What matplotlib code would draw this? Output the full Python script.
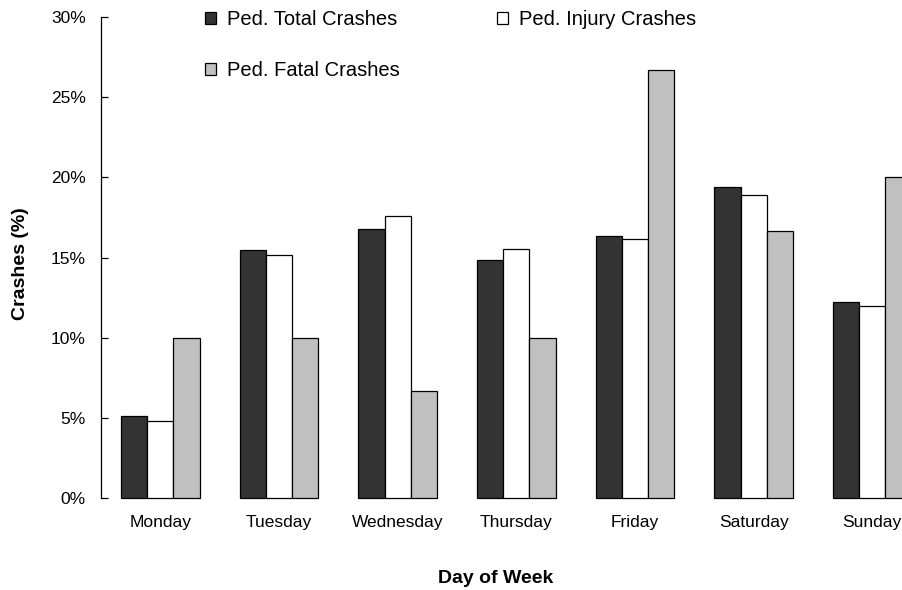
import matplotlib
matplotlib.use("Agg")
import matplotlib.pyplot as plt
from matplotlib.patches import Patch
from matplotlib.ticker import FuncFormatter
import numpy as np

plt.rcParams['font.family'] = ['Liberation Sans', 'DejaVu Sans']

days = ["Monday", "Tuesday", "Wednesday", "Thursday", "Friday", "Saturday", "Sunday"]
total_crashes = [5.13, 15.46, 16.79, 14.88, 16.33, 19.41, 12.24]
injury_crashes = [4.82, 15.19, 17.62, 15.52, 16.15, 18.91, 12.01]
fatal_crashes = [10.0, 10.0, 6.67, 10.0, 26.67, 16.67, 20.0]
series_labels = ["Ped. Total Crashes", "Ped. Injury Crashes", "Ped. Fatal Crashes"]
series_colors = ["#333333", "#ffffff", "#c0c0c0"]
yticks = [0, 5, 10, 15, 20, 25, 30]

W, H = 902, 590
fig = plt.figure(figsize=(W / 100, H / 100), dpi=100)
left_px, right_px, top_px, bottom_px = 101, 931.6, 17, 498.3
ax = fig.add_axes([left_px / W, 1 - bottom_px / H, (right_px - left_px) / W, (bottom_px - top_px) / H])

x = np.arange(len(days))
bw = 0.221
for i, (vals, col) in enumerate(zip([total_crashes, injury_crashes, fatal_crashes], series_colors)):
    ax.bar(x + (i - 1) * bw, vals, width=bw, color=col, edgecolor="black", linewidth=0.9,
           label=series_labels[i], clip_on=False)

ax.set_xlim(-0.5, 6.5)
ax.set_ylim(0, 30)
ax.set_yticks(yticks)
ax.yaxis.set_major_formatter(FuncFormatter(lambda v, p: f"{int(v)}%"))
ax.set_xticks(x)
ax.set_xticklabels(days)

for s in ["top", "right", "bottom"]:
    ax.spines[s].set_visible(False)
ax.spines["left"].set_linewidth(0.9)
ax.tick_params(axis="y", direction="in", length=5, width=0.9, pad=11, labelsize=12.5)
ax.tick_params(axis="x", length=0, pad=12, labelsize=12.5)

ax.set_xlabel("Day of Week", fontsize=14, fontweight="bold")
ax.xaxis.set_label_coords(0.475, -0.148)
ax.set_ylabel("Crashes (%)", fontsize=14, fontweight="bold")
ax.yaxis.set_label_coords(-0.087, 0.487)

handles = [Patch(facecolor=series_colors[0], edgecolor="black", linewidth=0.9),
           Patch(facecolor=series_colors[2], edgecolor="black", linewidth=0.9),
           Patch(facecolor=series_colors[1], edgecolor="black", linewidth=0.9)]
labels = [series_labels[0], series_labels[2], series_labels[1]]
fig.legend(handles, labels, loc="upper left", bbox_to_anchor=(205 / W, 1 - 10 / H),
           ncol=2, frameon=False, fontsize=14.5, borderpad=0, borderaxespad=0,
           handlelength=0.55, handleheight=0.55, handletextpad=0.55,
           columnspacing=4.8, labelspacing=1.6)

fig.savefig("out.png", dpi=100)
